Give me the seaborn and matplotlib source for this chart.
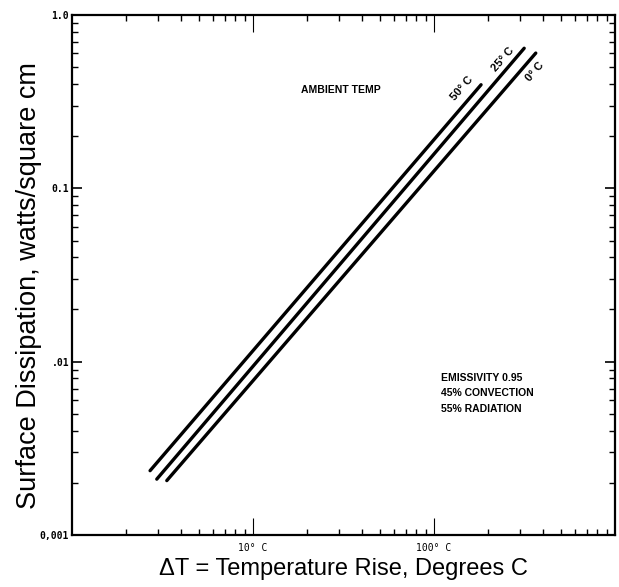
import matplotlib
matplotlib.use("Agg")
import matplotlib.pyplot as plt
import seaborn as sns
import pandas as pd
from matplotlib.ticker import LogLocator, NullFormatter

sns.set_style("ticks")
plt.rcParams['font.family'] = ['Liberation Sans', 'DejaVu Sans']
plt.rcParams['text.color'] = 'black'
plt.rcParams['axes.labelcolor'] = 'black'
plt.rcParams['xtick.color'] = 'black'
plt.rcParams['ytick.color'] = 'black'

# Data: straight lines on log-log axes, start and end points
ambient = ["0° C", "25° C", "50° C"]
dt_start = [3.34, 2.94, 2.70]
dt_end = [365, 315, 182]
watts_start = [0.00206, 0.0021, 0.00235]
watts_end = [0.603, 0.643, 0.396]

x_ticks = [10, 100]
x_ticklabels = ["10° C", "100° C"]
y_ticks = [0.001, 0.01, 0.1, 1.0]
y_ticklabels = ["0,001", ".01", "0.1", "1.0"]

rows = []
for name, x0, x1, y0, y1 in zip(ambient, dt_start, dt_end, watts_start, watts_end):
    rows.append({"ambient": name, "dt": x0, "watts": y0})
    rows.append({"ambient": name, "dt": x1, "watts": y1})
df = pd.DataFrame(rows)

fig = plt.figure(figsize=(6.19, 5.87), dpi=100)
ax = fig.add_axes([72 / 619, 1 - 535 / 587, 543 / 619, 520 / 587])

sns.lineplot(data=df, x="dt", y="watts", hue="ambient", units="ambient",
             estimator=None, palette=["black"] * 3, linewidth=2.4,
             legend=False, ax=ax, solid_capstyle="round")

ax.set_xscale("log")
ax.set_yscale("log")
ax.set_xlim(1, 1000)
ax.set_ylim(0.001, 1.0)

# ticks: all inward, on every side
ax.set_xticks(x_ticks)
ax.set_xticklabels(x_ticklabels, family="DejaVu Sans Mono", fontsize=7)
ax.set_yticks(y_ticks)
ax.set_yticklabels(y_ticklabels, family="DejaVu Sans Mono", fontsize=7,
                   fontweight="bold")
ax.xaxis.set_minor_locator(LogLocator(base=10, subs=range(2, 10)))
ax.yaxis.set_minor_locator(LogLocator(base=10, subs=range(2, 10)))
ax.xaxis.set_minor_formatter(NullFormatter())
ax.yaxis.set_minor_formatter(NullFormatter())
ax.tick_params(axis="x", which="major", direction="in", length=12, width=0.8,
               top=True, pad=6)
ax.tick_params(axis="y", which="major", direction="in", length=7, width=1.2,
               right=True, pad=2)
ax.tick_params(which="minor", direction="in", length=4, width=1.0,
               top=True, right=True)

for spine in ax.spines.values():
    spine.set_linewidth(1.6)
    spine.set_color("black")

ax.set_xlabel("ΔT = Temperature Rise, Degrees C", fontsize=17, labelpad=3)
ax.set_ylabel("Surface Dissipation, watts/square cm", fontsize=19.5)
ax.yaxis.set_label_coords(-0.056, 0.48)

# annotations
note_font = dict(family=["Liberation Sans", "DejaVu Sans"],
                 fontsize=7.5, fontweight="bold", color="black")
ax.text((341 - 72) / 543, (535 - 90) / 520, "AMBIENT TEMP",
        transform=ax.transAxes, ha="center", va="center", **note_font)

offsets = {"0° C": (-1, -19), "25° C": (-21, -11), "50° C": (-19, -4)}
for name, x1, y1 in zip(ambient, dt_end, watts_end):
    ax.annotate(name, xy=(x1, y1), xytext=offsets[name], textcoords="offset pixels",
                rotation=49, ha="center", va="center", fontsize=8,
                family=note_font["family"], fontweight="bold", color="black")

notes = ["EMISSIVITY 0.95", "45% CONVECTION", "55% RADIATION"]
for i, line in enumerate(notes):
    ax.text((441 - 72) / 543, (535 - 378 - 15.5 * i) / 520, line,
            transform=ax.transAxes, ha="left", va="center", **note_font)

fig.savefig("out.png", dpi=100, facecolor="white")
